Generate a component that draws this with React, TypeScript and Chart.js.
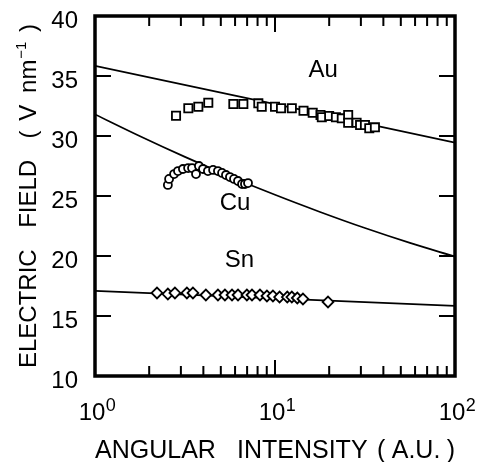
import React, { useEffect, useRef } from 'react';
import { Chart, registerables } from 'chart.js';

Chart.register(...registerables);

const FONT = '"Liberation Sans", Arial, Helvetica, sans-serif';

// ---- Measured data (angular intensity in A.U., electric field in V/nm) ----
const auIntensity = [2.82, 3.3, 3.75, 4.26, 5.87, 6.67, 8.08, 8.44, 10.0, 10.8, 12.4, 14.4, 16.2, 17.9, 18.2, 20.0, 21.8, 23.5, 25.5, 25.5, 28.4, 29.7, 31.6, 33.4, 35.9];
const auField = [31.69, 32.31, 32.44, 32.77, 32.67, 32.67, 32.72, 32.44, 32.44, 32.31, 32.31, 32.11, 31.94, 31.75, 31.56, 31.67, 31.56, 31.47, 31.75, 31.11, 31.11, 30.92, 30.92, 30.64, 30.72];

const cuIntensity = [2.54, 2.58, 2.75, 2.89, 3.08, 3.29, 3.46, 3.64, 3.78, 3.98, 4.24, 4.53, 4.82, 5.08, 5.34, 5.62, 5.92, 6.23, 6.56, 6.81, 7.08];
const cuField = [25.92, 26.42, 26.83, 27.08, 27.25, 27.33, 27.33, 26.83, 27.5, 27.25, 27.08, 27.17, 27.08, 26.92, 26.75, 26.58, 26.42, 26.25, 26.0, 26.0, 26.08];

const snIntensity = [2.21, 2.54, 2.78, 3.24, 3.5, 4.13, 4.82, 5.27, 5.77, 6.23, 6.98, 7.45, 8.25, 9.02, 9.74, 10.6, 11.7, 12.4, 13.3, 14.3, 19.7];
const snField = [16.92, 16.83, 16.92, 16.92, 16.92, 16.75, 16.75, 16.75, 16.75, 16.75, 16.75, 16.75, 16.75, 16.67, 16.67, 16.58, 16.58, 16.58, 16.5, 16.42, 16.17];

// ---- Model curves ----
const auCurveX = [1, 10, 100];
const auCurveY = [35.85, 32.65, 29.45];
const cuCurveX = [1, 1.78, 3.16, 5.62, 10, 17.8, 31.6, 56.2, 100];
const cuCurveY = [31.8, 29.98, 28.26, 26.63, 25.1, 23.67, 22.33, 21.09, 19.95];
const snCurveX = [1, 100];
const snCurveY = [17.1, 15.84];

// ---- Axes / ticks ----
const xMajorTicks = [1, 10, 100];
const xTickExponents = ['0', '1', '2'];
const xMinorTicks = [2, 3, 4, 5, 6, 7, 8, 9, 20, 30, 40, 50, 60, 70, 80, 90];
const yTicks = [10, 15, 20, 25, 30, 35, 40];

// ---- In-plot labels (data coordinates) ----
const materialNames = ['Au', 'Cu', 'Sn'];
const materialLabelX = [18.5, 6.0, 6.35];
const materialLabelY = [34.92, 23.83, 19.08];

const zip = (xs: number[], ys: number[]) => xs.map((x, i) => ({ x, y: ys[i] }));

type Piece = { text: string; font: string; dy: number };

function drawPieces(ctx: CanvasRenderingContext2D, pieces: Piece[], weights: number[], start: number, end: number, baseline: number) {
  const widths = pieces.map((p) => {
    ctx.font = p.font;
    return ctx.measureText(p.text).width;
  });
  const total = widths.reduce((a, b) => a + b, 0);
  const wsum = weights.reduce((a, b) => a + b, 0);
  const free = Math.max(0, end - start - total);
  let pos = start;
  pieces.forEach((p, i) => {
    ctx.font = p.font;
    ctx.fillText(p.text, pos, baseline + p.dy);
    pos += widths[i];
    if (i < weights.length) pos += (free * weights[i]) / wsum;
  });
}

const decorPlugin = {
  id: 'decor',
  afterDatasetsDraw(chart: any) {
    const { ctx, chartArea: a, scales } = chart;
    const xs = scales.x;
    const ys = scales.y;
    ctx.save();
    ctx.strokeStyle = '#000';
    ctx.fillStyle = '#000';

    // ticks (inward)
    ctx.lineWidth = 2;
    ctx.beginPath();
    xMajorTicks.forEach((v) => {
      const p = xs.getPixelForValue(v);
      ctx.moveTo(p, a.bottom);
      ctx.lineTo(p, a.bottom - 16);
      ctx.moveTo(p, a.top);
      ctx.lineTo(p, a.top + 16);
    });
    xMinorTicks.forEach((v) => {
      const p = xs.getPixelForValue(v);
      ctx.moveTo(p, a.bottom);
      ctx.lineTo(p, a.bottom - 10);
      ctx.moveTo(p, a.top);
      ctx.lineTo(p, a.top + 10);
    });
    yTicks.forEach((v) => {
      const p = ys.getPixelForValue(v);
      ctx.moveTo(a.left, p);
      ctx.lineTo(a.left + 16, p);
      ctx.moveTo(a.right, p);
      ctx.lineTo(a.right - 16, p);
    });
    ctx.stroke();

    // frame
    ctx.lineWidth = 3.5;
    ctx.strokeRect(a.left, a.top, a.right - a.left, a.bottom - a.top);

    // y tick labels
    ctx.font = `24px ${FONT}`;
    ctx.textAlign = 'right';
    ctx.textBaseline = 'alphabetic';
    yTicks.forEach((v) => {
      const p = ys.getPixelForValue(v);
      ctx.fillText(String(v), a.left - 17, p + 11.5);
    });

    // x tick labels 10^n
    ctx.textAlign = 'left';
    xMajorTicks.forEach((v, i) => {
      const p = xs.getPixelForValue(v);
      ctx.font = `24px ${FONT}`;
      const wBase = ctx.measureText('10').width;
      ctx.font = `18px ${FONT}`;
      const wExp = ctx.measureText(xTickExponents[i]).width;
      const left = p - (wBase + wExp) / 2 + 2;
      ctx.font = `24px ${FONT}`;
      ctx.fillText('10', left, a.bottom + 44);
      ctx.font = `18px ${FONT}`;
      ctx.fillText(xTickExponents[i], left + wBase + 0.5, a.bottom + 35);
    });

    // material labels
    ctx.font = `24px ${FONT}`;
    ctx.textAlign = 'center';
    materialNames.forEach((name, i) => {
      ctx.fillText(name, xs.getPixelForValue(materialLabelX[i]), ys.getPixelForValue(materialLabelY[i]));
    });

    // x title
    ctx.textAlign = 'left';
    const fx = `25px ${FONT}`;
    drawPieces(
      ctx,
      [
        { text: 'ANGULAR', font: fx, dy: 0 },
        { text: 'INTENSITY', font: fx, dy: 0 },
        { text: '(', font: fx, dy: 0 },
        { text: 'A.U.', font: fx, dy: 0 },
        { text: ')', font: fx, dy: 0 },
      ],
      [1, 0.45, 0.3, 0.3],
      a.left,
      a.right,
      a.bottom + 82
    );

    // y title (rotated)
    const fy = `24px ${FONT}`;
    const fs = `15px ${FONT}`;
    const cy = (a.top + a.bottom) / 2;
    ctx.translate(36, cy);
    ctx.rotate(-Math.PI / 2);
    drawPieces(
      ctx,
      [
        { text: 'ELECTRIC', font: fy, dy: 0 },
        { text: 'FIELD', font: fy, dy: 0 },
        { text: '(', font: fy, dy: 0 },
        { text: 'V', font: fy, dy: 0 },
        { text: 'nm', font: fy, dy: 0 },
        { text: '\u22121', font: fs, dy: -10 },
        { text: ')', font: fy, dy: 0 },
      ],
      [1, 1, 0.45, 0.55, 0.04, 0.45],
      -172,
      172,
      0
    );
    ctx.restore();
  },
};

export default function App() {
  const canvasRef = useRef<HTMLCanvasElement | null>(null);

  useEffect(() => {
    if (!canvasRef.current) return;
    const markerCommon = {
      showLine: false,
      borderColor: '#000',
      backgroundColor: '#fff',
      pointBorderColor: '#000',
      pointBackgroundColor: '#fff',
      pointBorderWidth: 1.8,
      order: 0,
    };
    const lineCommon = {
      showLine: true,
      pointRadius: 0,
      borderColor: '#000',
      borderWidth: 1.7,
      fill: false,
      order: 1,
    };
    const chart = new Chart(canvasRef.current, {
      type: 'scatter',
      data: {
        datasets: [
          { ...lineCommon, label: 'Au fit', data: zip(auCurveX, auCurveY) },
          { ...lineCommon, label: 'Cu fit', data: zip(cuCurveX, cuCurveY), cubicInterpolationMode: 'monotone' },
          { ...lineCommon, label: 'Sn fit', data: zip(snCurveX, snCurveY) },
          { ...markerCommon, label: 'Au', data: zip(auIntensity, auField), pointStyle: 'rect', pointRadius: 5.8 },
          { ...markerCommon, label: 'Cu', data: zip(cuIntensity, cuField), pointStyle: 'circle', pointRadius: 4 },
          { ...markerCommon, label: 'Sn', data: zip(snIntensity, snField), pointStyle: 'rectRot', pointRadius: 5.4 },
        ] as any,
      },
      options: {
        animation: false,
        responsive: false,
        devicePixelRatio: 1,
        layout: { padding: { left: 95, right: 23, top: 16, bottom: 86 } },
        plugins: { legend: { display: false }, tooltip: { enabled: false } },
        events: [],
        scales: {
          x: { type: 'logarithmic', min: 1, max: 100, display: false },
          y: { type: 'linear', min: 10, max: 40, display: false },
        },
      },
      plugins: [decorPlugin],
    });
    return () => chart.destroy();
  }, []);

  return (
    <div style={{ position: 'absolute', left: 0, top: 0, width: 478, height: 462, background: '#fff' }}>
      <canvas ref={canvasRef} width={478} height={462} style={{ display: 'block', width: 478, height: 462 }} />
    </div>
  );
}
